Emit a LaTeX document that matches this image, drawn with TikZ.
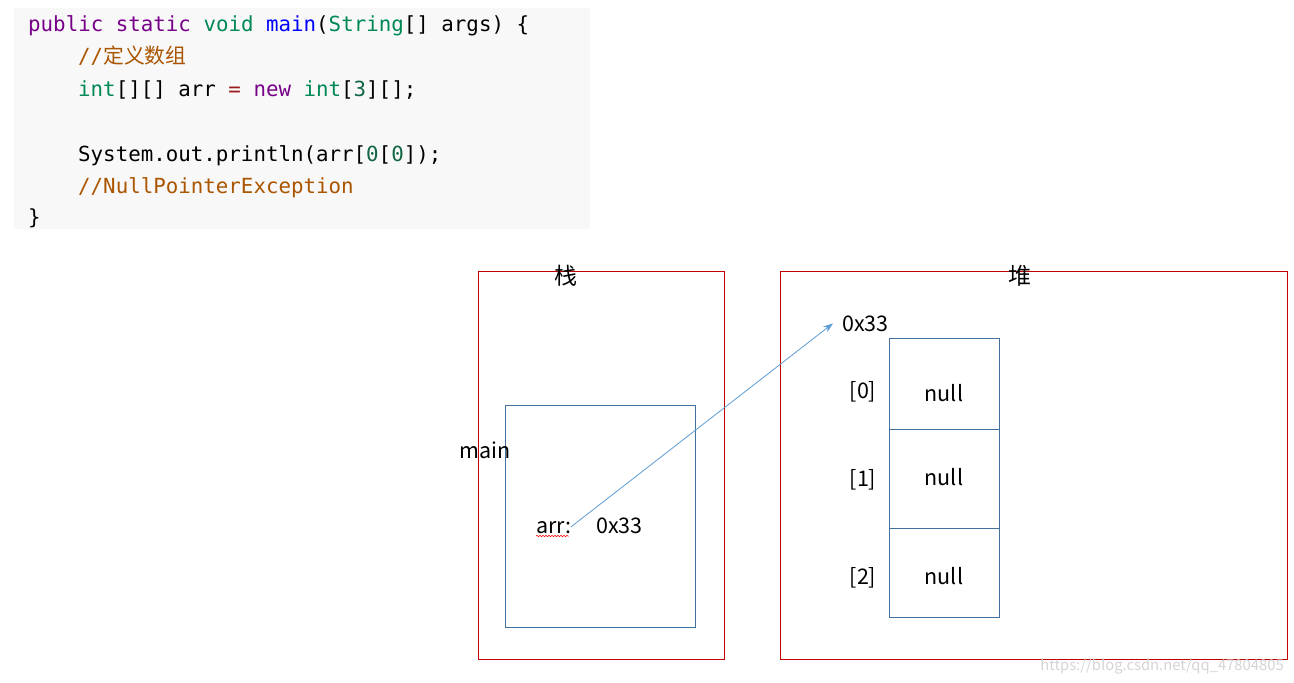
\documentclass[tikz,border=0pt]{standalone}
\usepackage{fontspec}
\setmainfont{Noto Sans CJK SC}
\setmonofont{DejaVu Sans Mono}
\newfontfamily\cjk{Noto Sans CJK SC}
\usetikzlibrary{positioning,calc,arrows.meta,decorations.pathmorphing}
\definecolor{codebg}{HTML}{F8F8F8}
\definecolor{kwpurple}{HTML}{770088}
\definecolor{typegreen}{HTML}{008855}
\definecolor{defblue}{HTML}{0000FF}
\definecolor{cmtorange}{HTML}{AA5500}
\definecolor{oprred}{HTML}{981A1A}
\definecolor{numgreen}{HTML}{116644}
\definecolor{regionred}{HTML}{C00000}
\definecolor{framebl}{HTML}{41719C}
\definecolor{ptrblue}{HTML}{5B9BD5}
\definecolor{markgray}{HTML}{D4D4D4}
\newcommand{\kw}[1]{\textcolor{kwpurple}{#1}}
\newcommand{\ty}[1]{\textcolor{typegreen}{#1}}
\newcommand{\cm}[1]{\textcolor{cmtorange}{#1}}
\newcommand{\nm}[1]{\textcolor{numgreen}{#1}}
\tikzset{
    codeline/.style={
        anchor=base west,
        inner sep=0pt,
        font=\ttfamily\fontsize{20.8}{24}\selectfont
    },
    region/.style={
        rectangle,
        draw=regionred,
        line width=0.9pt,
        inner sep=0pt
    },
    frame/.style={
        rectangle,
        draw=framebl,
        line width=0.8pt,
        inner sep=0pt
    },
    cell/.style={
        frame,
        minimum width=110pt
    },
    lbl/.style={
        anchor=base,
        inner sep=0pt,
        font=\fontsize{21.5}{24}\selectfont
    },
    ptr/.style={
        -{Stealth[length=10pt,width=7pt]},
        draw=ptrblue,
        line width=0.8pt
    }
}
\begin{document}
\begin{tikzpicture}[x=1pt, y=-1pt]
    \useasboundingbox (0,0) rectangle (1294,683);
    % code listing
    \fill [codebg] (14,8) rectangle (590,229);
    \node (line1) [codeline] at (28,31) {\kw{public} \kw{static} \ty{void} \textcolor{defblue}{main}(\ty{String}[] args) \{};
    \node (line2) [codeline] at (78,63.5) {\cm{//{\cjk 定义数组}}};
    \node (line3) [codeline] at (78,96) {\ty{int}[][] arr \textcolor{oprred}{=} \kw{new} \ty{int}[\nm{3}][];};
    \node (line5) [codeline] at (78,161) {System.out.println(arr[\nm{0}[\nm{0}]);};
    \node (line6) [codeline] at (78,193.5) {\cm{//NullPointerException}};
    \node (line7) [codeline] at (28,224) {\}};

    % stack
    \node (stack) [region, minimum width=246pt, minimum height=388pt] at (601,465) {};
    \node (stacklbl) [lbl, font=\fontsize{23}{24}\selectfont] at (566,284) {栈};
    \node (mainframe) [frame, minimum width=190pt, minimum height=222pt] at (600,516) {};
    \node (mainlbl) [lbl] at (485,458) {main};
    \node (arr) [lbl, anchor=base west] at (536,533) {arr:};
    \node (arrval) [lbl, anchor=base west] at (596,533) {0x33};
    \draw [red, line width=0.5pt, decorate, decoration={snake, amplitude=0.8pt, segment length=3pt}]
        ($(arr.base west)+(0,3)$) -- ($(arr.base east)+(-3,3)$);

    % heap
    \node (heap) [region, minimum width=507pt, minimum height=388pt] at (1033.5,465) {};
    \node (heaplbl) [lbl, font=\fontsize{23}{24}\selectfont] at (1020,284) {堆};
    \node (heapaddr) [lbl, anchor=base west] at (842,331) {0x33};
    \node (cell0) [cell, minimum height=91pt] at (944,383.5) {};
    \node (cell1) [cell, minimum height=99pt, below=-0.8pt of cell0] {};
    \node (cell2) [cell, minimum height=89pt, below=-0.8pt of cell1] {};
    \node (null0) [lbl] at (944,401) {null};
    \node (null1) [lbl] at (944,485) {null};
    \node (null2) [lbl] at (944,584) {null};
    \node (idx0) [lbl] at (863,398) {[0]};
    \node (idx1) [lbl] at (863,486) {[1]};
    \node (idx2) [lbl] at (863,584) {[2]};

    \draw [ptr] ($(arr.base east)+(-1,-6)$) -- ($(heapaddr.west)+(-9,0)$);

    \node (mark) [lbl, font=\fontsize{14.8}{18}\selectfont, text=markgray] at (1162,670) {https://blog.csdn.net/qq\_47804805};
\end{tikzpicture}
\end{document}
